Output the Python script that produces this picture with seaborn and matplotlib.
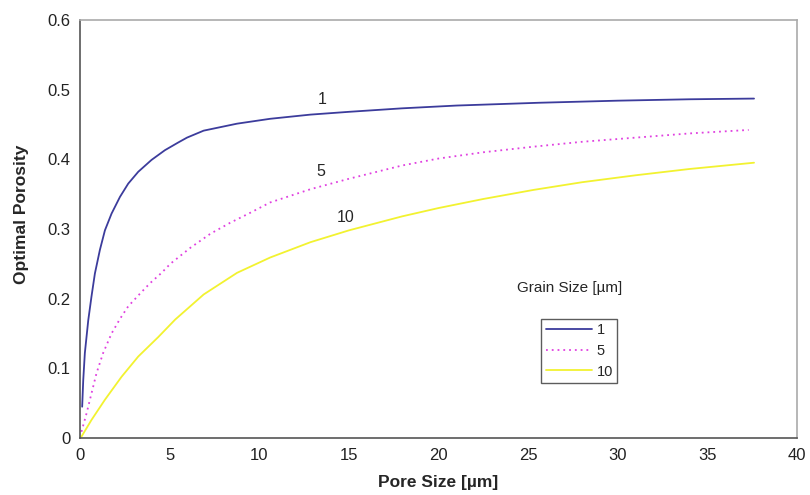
import matplotlib
matplotlib.use("Agg")
import matplotlib.pyplot as plt
import numpy as np
import pandas as pd
import seaborn as sns

# Curvas (tamaño de grano 1, 5, 10 µm)
x_g1 = [0.11, 0.17, 0.26, 0.45, 0.63, 0.82, 1.1, 1.38, 1.75, 2.22, 2.68, 3.24, 3.98,
        4.73, 5.47, 5.96, 6.89, 8.75, 10.6, 12.85, 15.0, 17.96, 21.0, 25.6, 30.0, 34.0, 37.6]
y_g1 = [0.045, 0.083, 0.122, 0.169, 0.203, 0.236, 0.27, 0.298, 0.322, 0.346, 0.365, 0.382, 0.399,
        0.413, 0.424, 0.431, 0.441, 0.451, 0.458, 0.464, 0.468, 0.473, 0.477, 0.481, 0.484, 0.486, 0.487]

x_g5 = [0.07, 0.35, 0.63, 0.91, 1.28, 1.75, 2.22, 2.68, 3.33, 3.89, 4.54, 5.03, 6.15, 7.26,
        8.38, 9.4, 10.6, 12.85, 15.0, 17.96, 20.0, 22.5, 25.3, 28.0, 31.0, 34.0, 37.3]
y_g5 = [0.009, 0.035, 0.064, 0.093, 0.122, 0.15, 0.171, 0.189, 0.207, 0.222, 0.237, 0.25, 0.273, 0.293,
        0.309, 0.322, 0.338, 0.357, 0.372, 0.391, 0.401, 0.41, 0.418, 0.425, 0.431, 0.437, 0.442]

x_g10 = [0.07, 0.63, 1.38, 2.31, 3.24, 4.36, 5.3, 6.89, 8.75, 10.6, 12.85, 15.0, 17.96,
         20.0, 22.5, 25.3, 28.0, 31.0, 34.0, 37.6]
y_g10 = [0.002, 0.026, 0.055, 0.088, 0.117, 0.145, 0.17, 0.206, 0.237, 0.259, 0.281, 0.298, 0.318,
         0.33, 0.343, 0.356, 0.367, 0.377, 0.386, 0.395]

grain_labels = ["1", "5", "10"]
colors = ["#3c3c9c", "#e040e0", "#f2f230"]
label_pos = [(13.5, 0.485), (13.4, 0.382), (14.8, 0.316)]

df = pd.concat([
    pd.DataFrame({"Pore": x_g1, "Porosity": y_g1, "Grain": "1"}),
    pd.DataFrame({"Pore": x_g5, "Porosity": y_g5, "Grain": "5"}),
    pd.DataFrame({"Pore": x_g10, "Porosity": y_g10, "Grain": "10"}),
])

sns.set_style("white")
plt.rcParams["font.family"] = ["Liberation Sans", "DejaVu Sans"]

fig = plt.figure(figsize=(8.1, 4.95), dpi=100)
ax = fig.add_axes([0.099, 0.115, 0.885, 0.845])

sns.lineplot(data=df, x="Pore", y="Porosity", hue="Grain", style="Grain",
             hue_order=grain_labels, style_order=grain_labels,
             palette=dict(zip(grain_labels, colors)),
             dashes={"1": "", "5": (1, 2.2), "10": ""},
             estimator=None, sort=False, linewidth=1.3, ax=ax, legend=False)

for lab, (tx, ty) in zip(grain_labels, label_pos):
    ax.text(tx, ty, lab, fontsize=11.5, ha="center", va="center")

ax.set_xlim(0, 40)
ax.set_ylim(0, 0.6)
ax.set_xticks(range(0, 41, 5))
ax.set_yticks(np.arange(0, 0.61, 0.1))
ax.set_yticklabels(["0", "0.1", "0.2", "0.3", "0.4", "0.5", "0.6"])
ax.tick_params(direction="in", length=4, labelsize=12, colors="#222222", pad=7)
ax.set_xlabel("Pore Size [µm]", fontsize=12.5, fontweight="bold", labelpad=9)
ax.set_ylabel("Optimal Porosity", fontsize=12.5, fontweight="bold")
ax.yaxis.set_label_coords(-0.072, 0.536)

for side in ["left", "bottom"]:
    ax.spines[side].set_color("#555555")
    ax.spines[side].set_linewidth(1.2)
for side in ["top", "right"]:
    ax.spines[side].set_color("#aaaaaa")
    ax.spines[side].set_linewidth(1.2)

# Leyenda con título separado
handles = [
    plt.Line2D([], [], color=colors[0], lw=1.3),
    plt.Line2D([], [], color=colors[1], lw=1.3, ls=(0, (1, 2.2))),
    plt.Line2D([], [], color=colors[2], lw=1.3),
]
ax.text(27.3, 0.215, "Grain Size [µm]", fontsize=11, ha="center", va="center")
leg = ax.legend(handles, grain_labels, loc="upper left",
                bbox_to_anchor=(0.633, 0.302), fontsize=10.5, frameon=True,
                fancybox=False, handlelength=3.2, handletextpad=0.3,
                borderpad=0.3, labelspacing=0.45)
leg.get_frame().set_edgecolor("#333333")
leg.get_frame().set_linewidth(1.0)

fig.savefig("out.png", dpi=100)
